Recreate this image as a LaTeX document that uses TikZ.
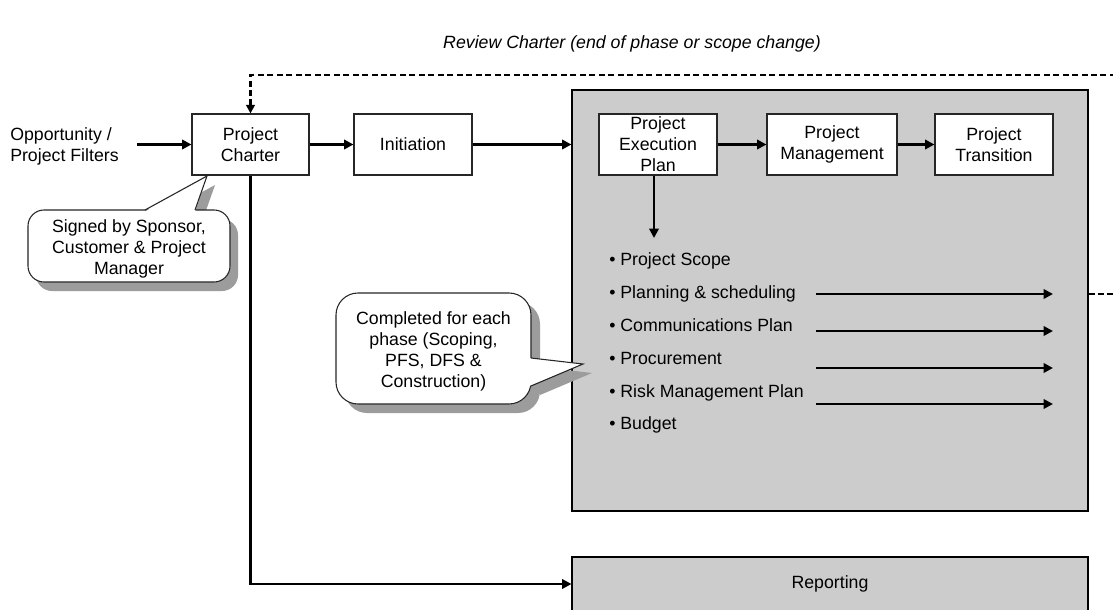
\documentclass[tikz,border=0pt]{standalone}
\usepackage{fontspec}
\setmainfont{Liberation Sans}
\usetikzlibrary{arrows.meta}
\definecolor{panel}{HTML}{CCCCCC}
\definecolor{shade}{HTML}{9C9C9C}
\begin{document}
\begin{tikzpicture}[x=0.75pt,y=-0.75pt,
  every node/.style={font=\fontsize{13.3}{15.75}\selectfont, inner sep=0pt},
  box/.style={draw=black!85, line width=0.8pt, fill=white, align=center, minimum height=45.75pt},
  panelbox/.style={draw=black, line width=0.8pt, fill=panel, minimum width=387pt},
  flow/.style={line width=1.9pt, -{Triangle[length=7pt,width=7pt]}},
  dashflow/.style={line width=1.6pt, dash pattern=on 4.5pt off 2.6pt, -{Triangle[length=6.5pt,width=6.5pt]}},
  bubble/.style={draw=black!85, line width=0.8pt, fill=white},
  bubbleline/.style={draw=black!85, line width=0.8pt, line join=miter},
  bubbleshadow/.style={fill=shade},
  item/.style={anchor=base west}
]
\useasboundingbox (0,0) rectangle (1113,610);
\fill[white] (0,0) rectangle (1113,610);

% panels
\node[panelbox, minimum height=315.75pt] (panel) at (830,300.5) {};
\node[panelbox, minimum height=40.5pt] (report) at (830,584) {Reporting};

% top text
\node[font=\itshape\fontsize{13.3}{15.75}\selectfont] (review) at (632,44) {Review Charter (end of phase or scope change)};

% boxes
\node[align=left, anchor=west] (opp) at (10,146) {Opportunity /\\Project Filters};
\node[box, minimum width=87.75pt] (charter) at (250.5,144.5) {Project\\Charter};
\node[box, minimum width=88.5pt] (init) at (413,144.5) {Initiation};
\node[box, minimum width=88.5pt] (exec) at (658,144.5) {\raisebox{-1.5pt}{\parbox{80pt}{\centering Project\\Execution\\Plan}}};
\node[box, minimum width=97.5pt] (mgmt) at (832,144.5) {Project\\Management};
\node[box, minimum width=88.5pt] (trans) at (994,144.5) {Project\\Transition};

% bullet list
\node[item] (b1) at (609,265) {\textbullet\ Project Scope};
\node[item] (b2) at (609,298) {\textbullet\ Planning \& scheduling};
\node[item] (b3) at (609,331) {\textbullet\ Communications Plan};
\node[item] (b4) at (609,364) {\textbullet\ Procurement};
\node[item] (b5) at (609,397) {\textbullet\ Risk Management Plan};
\node[item] (b6) at (609,429) {\textbullet\ Budget};

% coordinates
\coordinate (oppout) at (137,144.5);
\coordinate (plandown) at (654,238);
\coordinate (a1s) at (816,294); \coordinate (a1e) at (1053,294);
\coordinate (a2s) at (816,331); \coordinate (a2e) at (1053,331);
\coordinate (a3s) at (816,368); \coordinate (a3e) at (1053,368);
\coordinate (a4s) at (816,404); \coordinate (a4e) at (1053,404);
\coordinate (loopR1) at (1130,294);
\coordinate (loopR2) at (1130,75);
\coordinate (loopL) at (250.5,75);

% connectors
\draw[flow] (oppout) -- (charter.west);
\draw[flow] (charter) -- (init);
\draw[flow] (init) -- (init -| panel.west);
\draw[flow] (exec) -- (mgmt);
\draw[flow] (mgmt) -- (trans);
\draw[flow] (exec.south -| plandown) -- (plandown);
\draw[flow] (charter.south) |- (report.west);
\draw[flow] (a1s) -- (a1e);
\draw[flow] (a2s) -- (a2e);
\draw[flow] (a3s) -- (a3e);
\draw[flow] (a4s) -- (a4e);
\draw[dashflow] (panel.east |- a1s) -- (loopR1) -- (loopR2) -- (loopL) -- (charter.north);

% callout 1
\fill[bubbleshadow, rounded corners=12pt] (36,219) rectangle (238,291);
\fill[bubbleshadow] (153,219) -- (215,185) -- (203,219) -- cycle;
\draw[bubble, rounded corners=12pt] (28,210) rectangle (230,282);
\fill[white] (145,211.5) -- (207,176) -- (195,211.5) -- cycle;
\draw[bubbleline] (145,210) -- (207,176) -- (195,210);
\node[align=center] (sign) at (129,249) {Signed by Sponsor,\\Customer \& Project\\Manager};

% callout 2
\fill[bubbleshadow, rounded corners=16.5pt] (345,302) rectangle (540,413);
\fill[bubbleshadow] (540,367) -- (592,373) -- (540,395) -- cycle;
\draw[bubble, rounded corners=16.5pt] (336,293) rectangle (531,404);
\fill[white] (529.5,358) -- (583,364) -- (529.5,386) -- cycle;
\draw[bubbleline] (531,358) -- (583,364) -- (531,386);
\node[align=center] (done) at (433.5,351) {Completed for each\\phase (Scoping,\\PFS, DFS \&\\Construction)};
\end{tikzpicture}
\end{document}
